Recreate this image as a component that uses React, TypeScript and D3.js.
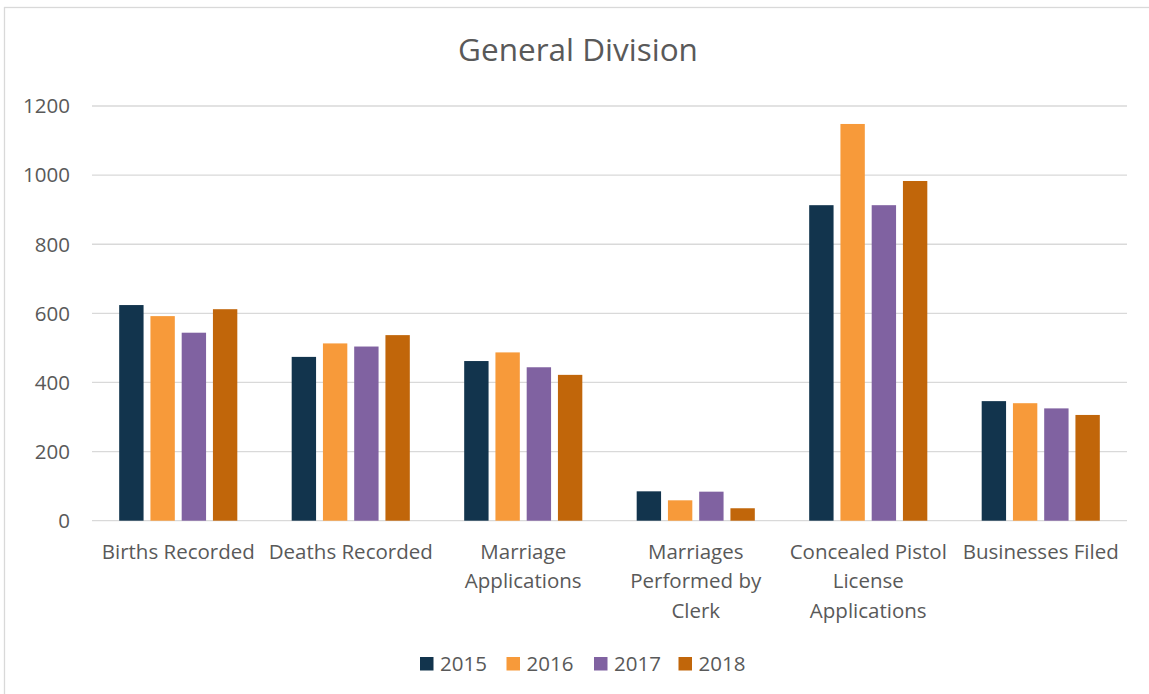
import React, { useRef, useEffect } from 'react';
import * as d3 from 'd3';

const categories = [
  'Births Recorded',
  'Deaths Recorded',
  'Marriage Applications',
  'Marriages Performed by Clerk',
  'Concealed Pistol License Applications',
  'Businesses Filed',
];
// how each category label breaks across lines
const categoryLines = [
  ['Births Recorded'],
  ['Deaths Recorded'],
  ['Marriage', 'Applications'],
  ['Marriages', 'Performed by', 'Clerk'],
  ['Concealed Pistol', 'License', 'Applications'],
  ['Businesses Filed'],
];
const years = ['2015', '2016', '2017', '2018'];
const values2015 = [624, 474, 462, 85, 913, 346];
const values2016 = [592, 513, 487, 59, 1148, 340];
const values2017 = [544, 504, 444, 84, 913, 325];
const values2018 = [612, 537, 422, 36, 983, 306];
const yTicks = [0, 200, 400, 600, 800, 1000, 1200];
const colors = ['#12344d', '#f79a3a', '#8062a1', '#c1660a'];

const W = 1149;
const H = 694;
const FONT = '"Open Sans", "DejaVu Sans", sans-serif';
const TEXT = '#595959';

const App: React.FC = () => {
  const svgRef = useRef<SVGSVGElement>(null);

  useEffect(() => {
    if (!svgRef.current) return;
    const svg = d3.select(svgRef.current);
    svg.selectAll('*').remove();

    const series = [values2015, values2016, values2017, values2018];
    const left = 92;
    const right = 1127;
    const top = 106;
    const bottom = 520.7;

    const x0 = d3.scaleBand<string>().domain(categories).range([left, right]);
    const x1 = d3
      .scaleBand<string>()
      .domain(years)
      .range([0, x0.bandwidth()])
      .paddingInner(0.22)
      .paddingOuter(0.87);
    const y = d3.scaleLinear().domain([0, 1200]).range([bottom, top]);

    // chart border
    svg
      .append('rect')
      .attr('x', 4.5)
      .attr('y', 7.5)
      .attr('width', W + 10)
      .attr('height', H + 10)
      .attr('fill', '#fff')
      .attr('stroke', '#d9d9d9')
      .attr('stroke-width', 1.3);

    // title
    svg
      .append('text')
      .attr('x', 578)
      .attr('y', 61)
      .attr('text-anchor', 'middle')
      .attr('font-family', FONT)
      .attr('font-size', 31.5)
      .attr('fill', TEXT)
      .text('General Division');

    // gridlines + y labels
    yTicks.forEach((t) => {
      svg
        .append('line')
        .attr('x1', left)
        .attr('x2', right)
        .attr('y1', y(t))
        .attr('y2', y(t))
        .attr('stroke', '#d9d9d9')
        .attr('stroke-width', 1.3);
      svg
        .append('text')
        .attr('x', 70)
        .attr('y', y(t))
        .attr('dy', '0.36em')
        .attr('text-anchor', 'end')
        .attr('font-family', FONT)
        .attr('font-size', 20.5)
        .attr('fill', TEXT)
        .text(t);
    });

    // bars
    categories.forEach((cat, ci) => {
      series.forEach((vals, si) => {
        svg
          .append('rect')
          .attr('x', (x0(cat) ?? 0) + (x1(years[si]) ?? 0))
          .attr('y', y(vals[ci]))
          .attr('width', x1.bandwidth())
          .attr('height', y(0) - y(vals[ci]))
          .attr('fill', colors[si]);
      });

      const lbl = svg
        .append('text')
        .attr('text-anchor', 'middle')
        .attr('font-family', FONT)
        .attr('font-size', 20.5)
        .attr('fill', TEXT);
      categoryLines[ci].forEach((line, li) => {
        lbl
          .append('tspan')
          .attr('x', (x0(cat) ?? 0) + x0.bandwidth() / 2)
          .attr('y', 558.5 + li * 29.5)
          .text(line);
      });
    });

    // legend
    const legendX = [420, 506.5, 594, 678.5];
    years.forEach((yr, i) => {
      svg
        .append('rect')
        .attr('x', legendX[i])
        .attr('y', 657)
        .attr('width', 13.5)
        .attr('height', 13.5)
        .attr('fill', colors[i]);
      svg
        .append('text')
        .attr('x', legendX[i] + 20)
        .attr('y', 671)
        .attr('font-family', FONT)
        .attr('font-size', 20.5)
        .attr('fill', TEXT)
        .text(yr);
    });
  }, []);

  return (
    <svg
      ref={svgRef}
      width={W}
      height={H}
      style={{ position: 'absolute', left: 0, top: 0, background: '#fff' }}
    />
  );
};

export default App;
